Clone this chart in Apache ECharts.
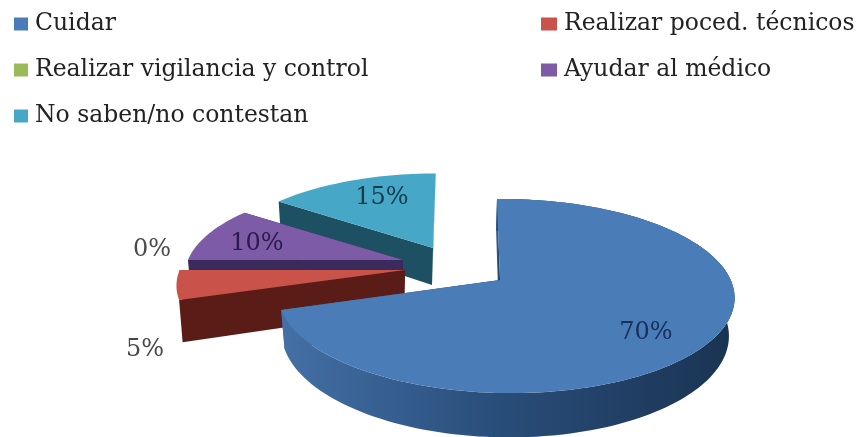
<!DOCTYPE html>
<html>
<head>
<meta charset="utf-8">
<style>html,body{margin:0;padding:0;background:#fff}#chart{width:862px;height:437px}</style>
<script src="https://cdn.jsdelivr.net/npm/echarts@6/dist/echarts.min.js"></script>
</head>
<body>
<div id="chart"></div>
<script>
// Survey answers, in percent, clockwise from twelve o'clock
const categories = ['Cuidar', 'Realizar poced. técnicos', 'Realizar vigilancia y control', 'Ayudar al médico', 'No saben/no contestan'];
const percentages = [70, 5, 0, 10, 15];

// Colours per slice: top face and wall
const topColors = ['#4a7cb8', '#c9534a', '#9bbb59', '#7d5ba6', '#46a8c6'];
const wallColors = ['#2a4f7c', '#5a1c16', '#4e6128', '#3b2a5c', '#1c5062'];

// Pulled-out placement of each slice: tip position, radius factor,
// horizontal factor, sideways lean, shear of the back edge, wall height
const sliceLayout = [
  { x: 500, y: 280, s: 1, sx: 0.978, lean: 0.025, shear: -3.5, depth: 37, arcWall: true },
  { x: 405, y: 270, s: 0.98, sx: 1, lean: 0, shear: 0, depth: 40, arcWall: false },
  { x: 403, y: 264, s: 0.95, sx: 1, lean: 0, shear: 0, depth: 37, arcWall: false },
  { x: 403, y: 260, s: 0.935, sx: 1, lean: 0, shear: 0, depth: 37, arcWall: false },
  { x: 433, y: 248, s: 0.92, sx: 1, lean: 0, shear: 3.5, depth: 37, arcWall: false }
];
const labelPlaces = [[646, 333], [145, 350], [152, 250], [257, 244], [382, 198]];
const labelColors = ['#16305a', '#4a4a4a', '#4a4a4a', '#2a1a50', '#123c4c'];
const legendPlaces = [[14, 12], [541, 12], [14, 58], [541, 58], [14, 104]];
const legendMarkerWidths = [14, 16, 14, 16, 14];

// Perspective disc parameters
const RX = 230, RY = 94.4, TILT = 0.165, SHRINK = 0.98, WALL_SHIFT = -1;
const FONT = '"DejaVu Serif", serif';

const total = percentages.reduce((a, b) => a + b, 0);
const startAngles = percentages.map((_, i) =>
  percentages.slice(0, i).reduce((a, b) => a + b, 0) / total * Math.PI * 2);

// Projects a point on the tilted unit disc of a slice to the screen
function topPoint(l, angle, r) {
  const u = Math.sin(angle) * r, v = Math.cos(angle) * r;
  const f = 1 / (1 + TILT * v - l.lean * u);
  return [l.x + (RX * l.sx * u + l.shear * v) * l.s * f, l.y - RY * v * l.s * f];
}
function bottomPoint(l, angle, r) {
  const p = topPoint(l, angle, r);
  const v = Math.cos(angle) * r;
  return [l.x + (p[0] - l.x) * SHRINK + WALL_SHIFT, p[1] + l.depth / (1 + TILT * v)];
}

function renderSlice(index) {
  return function (params, api) {
    const value = api.value(0);
    const l = sliceLayout[index];
    const a0 = startAngles[index];
    const a1 = a0 + value / total * Math.PI * 2;
    const children = [];
    if (value > 0) {
      const n = Math.max(8, Math.round(value * 2));
      const arcTop = [], arcBottom = [];
      for (let i = 0; i <= n; i++) {
        const a = a0 + (a1 - a0) * i / n;
        arcTop.push(topPoint(l, a, 1));
        arcBottom.push(bottomPoint(l, a, 1));
      }
      const tipTop = topPoint(l, 0, 0), tipBottom = bottomPoint(l, 0, 0);
      const wall = index === 0
        ? new echarts.graphic.LinearGradient(0, 0, 1, 0, [
            { offset: 0, color: '#4470a6' },
            { offset: 0.45, color: '#2a4f7c' },
            { offset: 1, color: '#1a3352' }
          ])
        : wallColors[index];
      const quad = (p) => ({ type: 'polygon', shape: { points: p }, style: { fill: wall } });
      children.push(quad([tipTop, arcTop[0], arcBottom[0], tipBottom]));
      children.push(quad([tipTop, arcTop[n], arcBottom[n], tipBottom]));
      if (l.arcWall) {
        children.push(quad(arcTop.concat(arcBottom.slice().reverse())));
      }
      children.push({
        type: 'polygon',
        shape: { points: [tipTop].concat(arcTop) },
        style: { fill: topColors[index] }
      });
    }
    const place = labelPlaces[index];
    children.push({
      type: 'text',
      z2: 10,
      style: {
        x: place[0], y: place[1], text: value + '%',
        fill: labelColors[index], font: '24px ' + FONT,
        align: 'center', verticalAlign: 'middle'
      }
    });
    return { type: 'group', children };
  };
}

// Slices are painted back to front so nearer ones overlap farther ones
const paintOrder = [4, 3, 2, 1, 0];
const series = paintOrder.map((i, order) => ({
  type: 'custom',
  name: categories[i],
  coordinateSystem: 'none',
  z: 2 + order,
  silent: true,
  itemStyle: { color: topColors[i] },
  renderItem: renderSlice(i),
  data: [[percentages[i]]]
}));

const legend = categories.map((name, i) => ({
  data: [name],
  left: legendPlaces[i][0],
  top: legendPlaces[i][1],
  padding: 0,
  icon: 'rect',
  itemWidth: legendMarkerWidths[i],
  itemHeight: 13,
  selectedMode: false,
  textStyle: { fontFamily: FONT, fontSize: 23.5, color: '#222', padding: [0, 0, 0, 2] }
}));

const chart = echarts.init(document.getElementById('chart'), null, { renderer: 'canvas' });
chart.setOption({ animation: false, backgroundColor: '#fff', legend, series });
</script>
</body>
</html>
